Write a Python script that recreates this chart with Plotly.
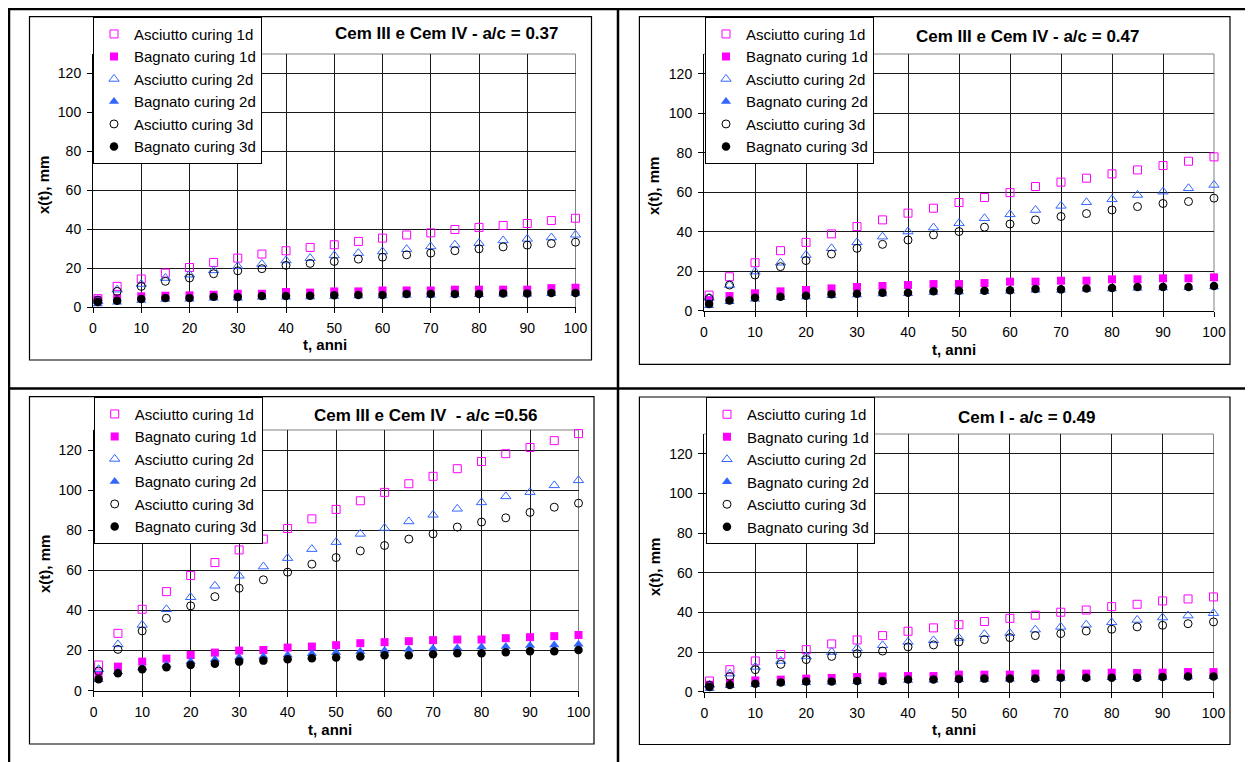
import plotly.graph_objects as go

# ---------------- DATA ----------------
t_years = [1, 5, 10, 15, 20, 25, 30, 35, 40, 45, 50, 55, 60, 65, 70, 75, 80, 85, 90, 95, 100]

series_names = ["Asciutto curing 1d", "Bagnato curing 1d", "Asciutto curing 2d",
                "Bagnato curing 2d", "Asciutto curing 3d", "Bagnato curing 3d"]

x_ticks = [0, 10, 20, 30, 40, 50, 60, 70, 80, 90, 100]
y_ticks = [0, 20, 40, 60, 80, 100, 120]

# Panel: Cem III e Cem IV - a/c = 0.37
p037_asc_1d = [4.3, 10.6, 14.4, 17.4, 20.3, 22.9, 25.1, 27.2, 28.9, 30.6, 32.0, 33.7, 35.4, 37.0, 38.1, 39.8, 40.9, 41.9, 42.9, 44.4, 45.6]
p037_bag_1d = [3.8, 4.6, 5.5, 5.8, 6.0, 6.3, 6.8, 6.8, 7.7, 7.4, 8.0, 8.0, 8.5, 8.5, 8.5, 8.9, 8.9, 8.9, 8.9, 9.7, 9.9]
p037_asc_2d = [3.0, 8.9, 11.8, 14.9, 16.6, 18.8, 20.9, 22.1, 23.9, 25.1, 26.5, 27.7, 28.5, 29.7, 31.1, 32.0, 32.8, 34.2, 35.0, 35.7, 37.1]
p037_bag_2d = [1.5, 2.5, 3.3, 3.8, 4.0, 4.5, 4.5, 5.0, 5.0, 5.2, 5.4, 5.6, 5.7, 6.0, 6.1, 6.2, 6.3, 6.5, 6.6, 6.8, 7.0]
p037_asc_3d = [3.5, 8.0, 10.6, 13.2, 14.9, 17.1, 18.6, 19.7, 21.4, 22.4, 23.4, 24.6, 25.6, 26.8, 27.7, 28.9, 29.9, 30.9, 31.8, 32.6, 33.3]
p037_bag_3d = [2.6, 3.2, 4.1, 4.6, 4.6, 5.3, 5.1, 5.6, 5.6, 5.8, 6.0, 6.2, 6.2, 6.7, 6.7, 6.7, 6.7, 7.0, 7.0, 7.2, 7.2]

# Panel: Cem III e Cem IV - a/c = 0.47
p047_asc_1d = [7.9, 17.2, 24.3, 30.4, 34.6, 38.9, 42.6, 46.0, 49.4, 51.9, 54.8, 57.3, 59.8, 62.9, 65.1, 67.1, 69.3, 71.3, 73.5, 75.7, 77.9]
p047_bag_1d = [5.4, 7.4, 8.8, 9.8, 10.5, 11.3, 12.0, 12.5, 13.0, 13.5, 13.5, 14.0, 14.7, 14.7, 15.2, 15.2, 15.9, 15.9, 16.4, 16.4, 16.9]
p047_asc_2d = [6.5, 13.0, 19.8, 24.3, 28.2, 31.6, 34.6, 37.5, 40.1, 42.1, 44.3, 46.8, 48.8, 51.0, 53.1, 54.9, 56.4, 58.6, 60.3, 62.0, 63.7]
p047_bag_2d = [2.5, 4.5, 5.8, 6.5, 7.0, 7.6, 8.0, 8.5, 8.6, 9.2, 9.5, 9.6, 9.8, 10.3, 10.4, 10.8, 11.0, 11.4, 11.5, 11.6, 12.0]
p047_asc_3d = [6.3, 13.0, 18.1, 22.3, 25.4, 28.7, 31.6, 33.6, 35.8, 38.4, 40.1, 42.3, 43.9, 46.0, 47.7, 49.2, 51.0, 52.7, 54.3, 55.3, 57.0]
p047_bag_3d = [3.4, 5.2, 6.6, 7.1, 7.6, 8.3, 8.6, 9.1, 9.1, 9.8, 10.1, 10.1, 10.3, 11.0, 10.8, 11.3, 11.5, 12.0, 12.0, 12.0, 12.5]

# Panel: Cem III e Cem IV - a/c = 0.56
p056_asc_1d = [12.8, 28.6, 40.6, 49.4, 57.4, 63.9, 70.2, 75.6, 80.9, 85.7, 90.4, 94.7, 98.9, 103.2, 106.9, 110.7, 114.3, 118.2, 121.3, 124.7, 128.2]
p056_bag_1d = [8.0, 12.0, 14.5, 16.0, 17.8, 19.0, 20.0, 20.3, 21.5, 22.0, 22.7, 23.7, 24.2, 24.7, 25.2, 25.5, 25.5, 26.2, 26.7, 27.2, 27.8]
p056_asc_2d = [10.7, 23.1, 32.8, 40.6, 46.6, 52.3, 57.3, 61.9, 66.1, 70.6, 74.1, 78.2, 81.1, 84.4, 87.7, 90.7, 93.9, 96.9, 99.0, 102.4, 104.9]
p056_bag_2d = [5.5, 9.5, 11.5, 13.0, 14.5, 15.5, 16.5, 17.0, 17.8, 18.5, 19.0, 19.5, 20.0, 20.5, 21.0, 21.3, 21.8, 22.0, 22.5, 22.8, 23.2]
p056_asc_3d = [9.8, 20.6, 29.8, 36.1, 42.3, 46.9, 51.1, 55.3, 59.1, 63.1, 66.4, 69.7, 72.4, 75.6, 78.2, 81.6, 84.1, 86.2, 88.9, 91.5, 93.5]
p056_bag_3d = [5.7, 8.7, 10.7, 11.7, 12.8, 13.5, 14.5, 15.0, 15.7, 16.2, 16.5, 17.0, 17.7, 17.7, 18.2, 18.7, 18.7, 19.2, 19.7, 19.7, 20.3]

# Panel: Cem I - a/c = 0.49
p049_asc_1d = [5.4, 11.1, 15.5, 18.7, 21.2, 24.1, 26.1, 28.3, 30.5, 32.2, 33.8, 35.4, 37.0, 38.6, 40.1, 41.2, 42.9, 44.1, 45.8, 46.8, 47.8]
p049_bag_1d = [3.5, 4.5, 5.7, 6.1, 6.6, 6.9, 7.4, 7.7, 7.9, 7.9, 8.6, 8.6, 8.6, 9.1, 9.1, 9.1, 9.6, 9.4, 9.6, 9.9, 9.9]
p049_asc_2d = [3.5, 9.1, 12.5, 15.5, 17.8, 20.0, 21.8, 23.4, 25.1, 25.9, 27.1, 29.0, 29.6, 31.3, 32.7, 33.8, 35.0, 36.2, 37.4, 38.4, 39.6]
p049_bag_2d = [1.5, 3.0, 3.5, 4.2, 4.5, 4.8, 5.0, 5.2, 5.6, 5.8, 6.0, 6.2, 6.3, 6.5, 6.7, 6.9, 7.0, 7.1, 7.2, 7.4, 7.5]
p049_asc_3d = [3.2, 7.7, 11.1, 13.8, 16.2, 17.8, 19.2, 20.5, 22.6, 23.6, 25.1, 26.3, 27.3, 28.3, 29.3, 30.6, 31.5, 32.7, 33.5, 34.3, 35.2]
p049_bag_3d = [2.4, 3.4, 4.0, 4.7, 5.1, 5.1, 5.4, 5.4, 6.1, 6.1, 6.4, 6.6, 6.6, 6.6, 7.1, 7.1, 7.1, 7.1, 7.4, 7.7, 7.7]

panel_titles = ["Cem III e Cem IV - a/c = 0.37", "Cem III e Cem IV - a/c = 0.47",
                "Cem III e Cem IV\u00a0 - a/c =0.56", "Cem I - a/c = 0.49"]
panel_data = [
    [p037_asc_1d, p037_bag_1d, p037_asc_2d, p037_bag_2d, p037_asc_3d, p037_bag_3d],
    [p047_asc_1d, p047_bag_1d, p047_asc_2d, p047_bag_2d, p047_asc_3d, p047_bag_3d],
    [p056_asc_1d, p056_bag_1d, p056_asc_2d, p056_bag_2d, p056_asc_3d, p056_bag_3d],
    [p049_asc_1d, p049_bag_1d, p049_asc_2d, p049_bag_2d, p049_asc_3d, p049_bag_3d],
]
x_title = "t, anni"
y_title = "x(t), mm"

# ---------------- STYLE / LAYOUT (pixels of the 1253x762 page) ----------------
PAGE_W, PAGE_H = 1253, 762
OFF = 8                      # default body margin of the html page
W, H = PAGE_W - OFF, PAGE_H - OFF
FONT = "Arial, Liberation Sans, sans-serif"
MAGENTA = "#FF00FF"
BLUE = "#3366FF"
BLACK = "#000000"

marker_styles = [
    dict(symbol="square-open", color=MAGENTA, size=8, line=dict(width=1, color=MAGENTA)),
    dict(symbol="square", color=MAGENTA, size=8, line=dict(width=0)),
    dict(symbol="triangle-up-open", color=BLUE, size=9, line=dict(width=1, color=BLUE)),
    dict(symbol="triangle-up", color=BLUE, size=9, line=dict(width=0)),
    dict(symbol="circle-open", color=BLACK, size=8, line=dict(width=1, color=BLACK)),
    dict(symbol="circle", color=BLACK, size=8.5, line=dict(width=0)),
]

# plot area (x=0 px, x=100 px, y=0 px, y=130 px)
plot_px = [
    (93.0, 575.5, 307.0, 54.0),
    (704.0, 1214.0, 310.7, 54.0),
    (93.7, 578.5, 690.7, 430.0),
    (704.4, 1213.5, 691.7, 434.0),
]
frame_px = [
    (29.5, 16.7, 591.5, 360.0),
    (639.4, 16.7, 1230.0, 364.3),
    (29.5, 396.7, 594.0, 744.0),
    (639.4, 397.0, 1230.0, 744.5),
]
legend_px = [(93.0, 16.7), (705.0, 16.7), (93.7, 396.7), (706.0, 397.0)]
title_px = [(446, 33.5), (1027, 37), (425, 415), (1027, 417.5)]
ytitle_px = [(44, 185), (654, 186), (44, 564), (654, 567)]
xtitle_px = [(325, 345), (954, 349), (330, 729), (954, 729)]


def fx(x):
    return (x - OFF) / W


def fy(y):
    return 1 - (y - OFF) / H


fig = go.Figure()
layout = dict(
    width=W, height=H, autosize=False,
    margin=dict(l=0, r=0, t=0, b=0, pad=0),
    paper_bgcolor="white", plot_bgcolor="white",
    font=dict(family=FONT, color=BLACK),
    showlegend=True,
)
shapes = []
annotations = []

for i in range(4):
    k = "" if i == 0 else str(i + 1)
    legend_id = "legend" + k
    for s in range(6):
        fig.add_trace(go.Scatter(
            x=t_years, y=panel_data[i][s], mode="markers", name=series_names[s],
            marker=marker_styles[s], xaxis="x" + k, yaxis="y" + k,
            legend=legend_id, cliponaxis=False, hoverinfo="x+y+name",
        ))
    x0, x1, y0, y1 = plot_px[i]
    axis_common = dict(
        showline=True, linecolor=BLACK, linewidth=1, mirror=False,
        ticks="outside", ticklen=5, tickwidth=1, tickcolor=BLACK,
        showgrid=True, gridcolor="#1a1a1a", gridwidth=1, zeroline=False,
        tickfont=dict(family=FONT, size=14, color=BLACK), automargin=False,
        fixedrange=True,
    )
    layout["xaxis" + k] = dict(axis_common, domain=[fx(x0), fx(x1)], range=[0, 100],
                               tickvals=x_ticks, anchor="y" + k, ticklabelstandoff=3)
    layout["yaxis" + k] = dict(axis_common, domain=[fy(y0), fy(y1)], range=[0, 130],
                               tickvals=y_ticks, anchor="x" + k, ticklabelstandoff=3)
    lx, ly = legend_px[i]
    layout[legend_id] = dict(
        x=fx(lx), y=fy(ly), xanchor="left", yanchor="top",
        bgcolor="white", bordercolor=BLACK, borderwidth=1,
        font=dict(family=FONT, size=15, color=BLACK),
        itemclick=False, itemdoubleclick=False, tracegroupgap=0,
    )
    # grey plot-area border (top / right)
    shapes.append(dict(type="line", xref="paper", yref="paper",
                       x0=fx(x0), x1=fx(x1), y0=fy(y1), y1=fy(y1),
                       line=dict(color="#808080", width=1), layer="below"))
    shapes.append(dict(type="line", xref="paper", yref="paper",
                       x0=fx(x1), x1=fx(x1), y0=fy(y0), y1=fy(y1),
                       line=dict(color="#808080", width=1), layer="below"))
    # chart frame
    a, b, c, d = frame_px[i]
    shapes.append(dict(type="rect", xref="paper", yref="paper",
                       x0=fx(a), x1=fx(c), y0=fy(d), y1=fy(b),
                       line=dict(color=BLACK, width=1.2), layer="below"))
    tx, ty = title_px[i]
    annotations.append(dict(text="<b>" + panel_titles[i] + "</b>", x=fx(tx), y=fy(ty),
                            xref="paper", yref="paper", xanchor="center", yanchor="middle",
                            showarrow=False, font=dict(family=FONT, size=17, color=BLACK)))
    ax_, ay_ = ytitle_px[i]
    annotations.append(dict(text="<b>" + y_title + "</b>", x=fx(ax_), y=fy(ay_),
                            xref="paper", yref="paper", xanchor="center", yanchor="middle",
                            textangle=-90, showarrow=False,
                            font=dict(family=FONT, size=15, color=BLACK)))
    bx, by = xtitle_px[i]
    annotations.append(dict(text="<b>" + x_title + "</b>", x=fx(bx), y=fy(by),
                            xref="paper", yref="paper", xanchor="center", yanchor="middle",
                            showarrow=False, font=dict(family=FONT, size=15, color=BLACK)))

# table grid lines
table_line = dict(color=BLACK, width=2.5)
shapes += [
    dict(type="line", xref="paper", yref="paper", x0=fx(OFF), x1=fx(PAGE_W), y0=fy(9), y1=fy(9), line=table_line),
    dict(type="line", xref="paper", yref="paper", x0=fx(OFF), x1=fx(PAGE_W), y0=fy(388.5), y1=fy(388.5), line=table_line),
    dict(type="line", xref="paper", yref="paper", x0=fx(9), x1=fx(9), y0=fy(OFF), y1=fy(PAGE_H), line=table_line),
    dict(type="line", xref="paper", yref="paper", x0=fx(618), x1=fx(618), y0=fy(OFF), y1=fy(PAGE_H), line=table_line),
]

layout["shapes"] = shapes
layout["annotations"] = annotations
fig.update_layout(**layout)
fig.write_html("out.html")
